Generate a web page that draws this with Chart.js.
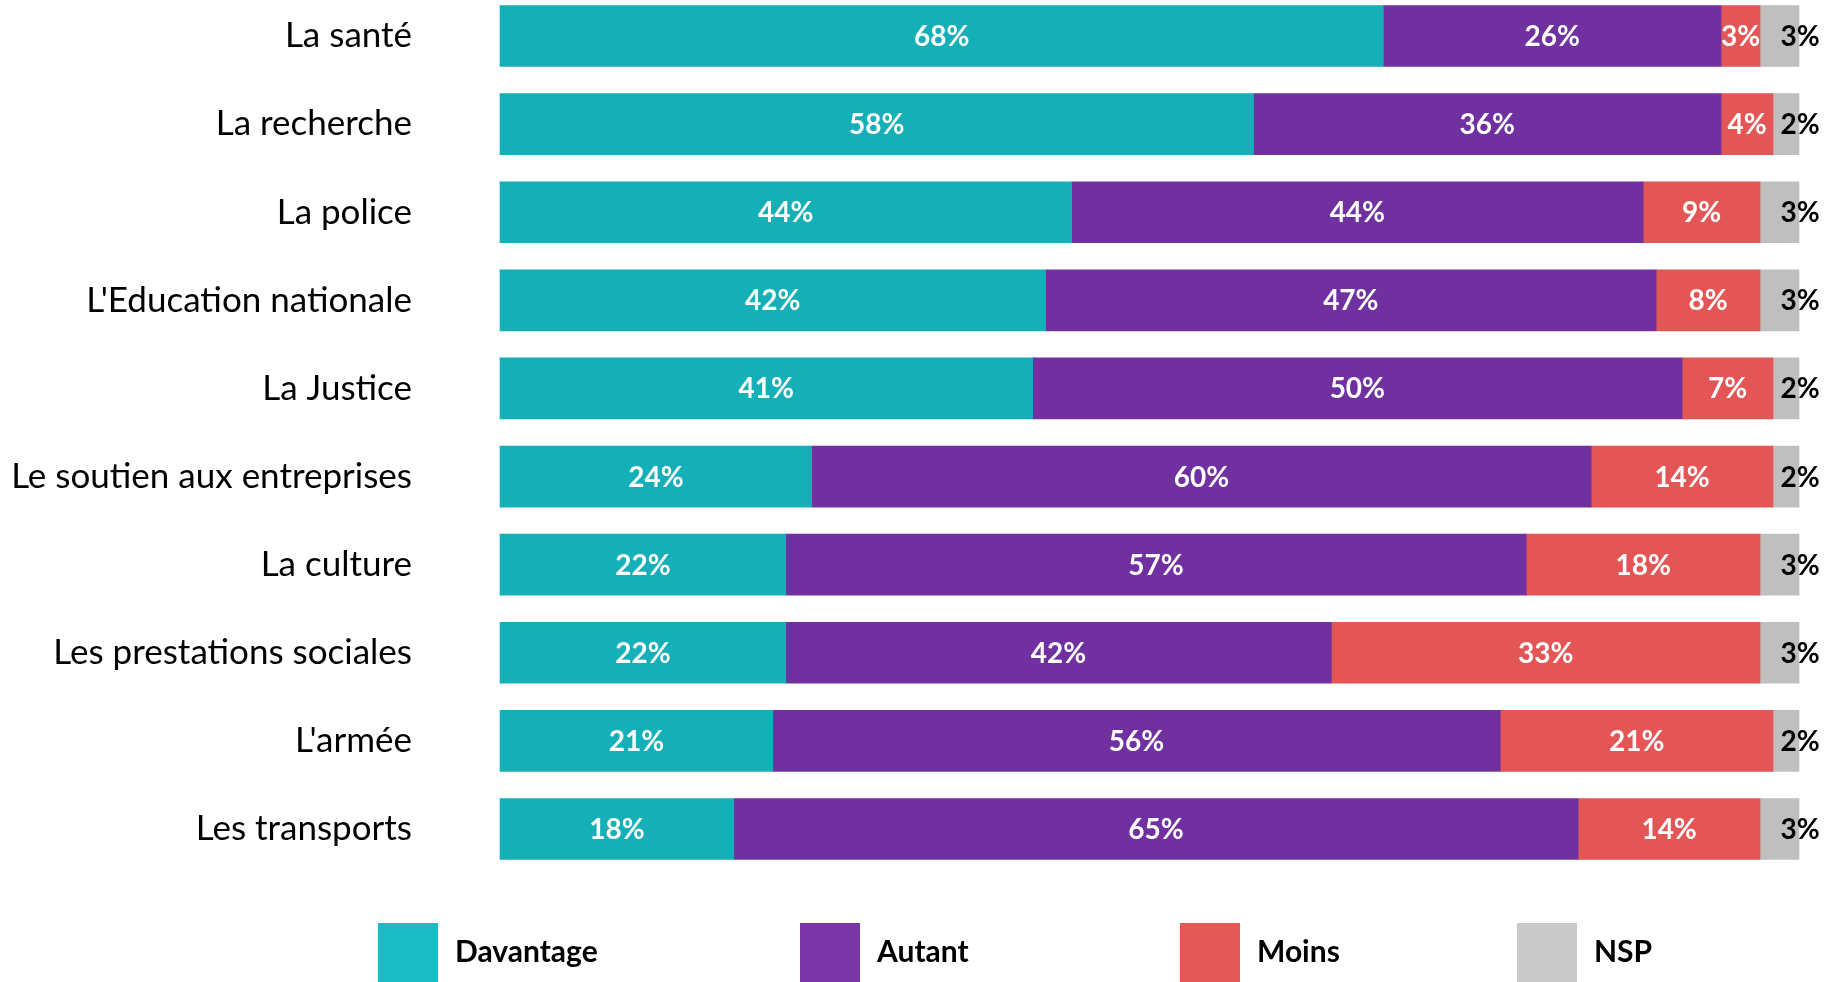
<!DOCTYPE html>
<html>
<head>
<meta charset="utf-8">
<script src="https://cdn.jsdelivr.net/npm/chart.js@4/dist/chart.umd.min.js"></script>
<style>
  html, body { margin: 0; padding: 0; background: #fff; overflow: hidden; }
  #wrap { width: 1837px; height: 982px; position: relative; }
</style>
</head>
<body>
<div id="wrap"><canvas id="chart"></canvas></div>
<script>
// data
var categories = ["La santé", "La recherche", "La police", "L'Education nationale", "La Justice",
  "Le soutien aux entreprises", "La culture", "Les prestations sociales", "L'armée", "Les transports"];
var seriesNames = ["Davantage", "Autant", "Moins", "NSP"];
var davantage = [68, 58, 44, 42, 41, 24, 22, 22, 21, 18];
var autant    = [26, 36, 44, 47, 50, 60, 57, 42, 56, 65];
var moins     = [3, 4, 9, 8, 7, 14, 18, 33, 21, 14];
var nsp       = [3, 2, 3, 3, 2, 2, 3, 3, 2, 3];

var barColors = ['#14AFB7', '#7030A0', '#E45656', '#BFBFBF'];
var legendColors = ['#1ABCC5', '#7A36A6', '#E45757', '#C9C9C9'];
var labelColors = ['#fff', '#fff', '#fff', '#000'];

var FONT = 'Lato, "Open Sans", sans-serif';

// draws the % values inside / next to the segments
var valueLabels = {
  id: 'valueLabels',
  afterDatasetsDraw: function(chart) {
    var ctx = chart.ctx;
    ctx.save();
    ctx.font = 'bold 28px ' + FONT;
    ctx.textBaseline = 'middle';
    ctx.textAlign = 'center';
    chart.data.datasets.forEach(function(ds, i) {
      var meta = chart.getDatasetMeta(i);
      meta.data.forEach(function(bar, j) {
        var x = (i === 3) ? bar.x + 1 : (bar.x + bar.base) / 2;
        ctx.fillStyle = labelColors[i];
        ctx.fillText(ds.data[j] + '%', x, bar.y + 1);
      });
    });
    ctx.restore();
  }
};

// legend at the bottom, boxes cut by the canvas edge as in the original
var bottomLegend = {
  id: 'bottomLegend',
  afterDraw: function(chart, args, opts) {
    var ctx = chart.ctx;
    ctx.save();
    ctx.font = 'bold 30px ' + FONT;
    ctx.textBaseline = 'middle';
    ctx.textAlign = 'left';
    seriesNames.forEach(function(name, i) {
      var x = opts.xs[i];
      ctx.fillStyle = legendColors[i];
      ctx.fillRect(x, opts.top, 60, 70);
      ctx.fillStyle = '#000';
      ctx.fillText(name, x + 77, opts.top + 29);
    });
    ctx.restore();
  }
};

var ctx = document.getElementById('chart').getContext('2d');
var chart = new Chart(ctx, {
  type: 'bar',
  data: {
    labels: categories,
    datasets: [davantage, autant, moins, nsp].map(function(vals, i) {
      return {
        label: seriesNames[i],
        data: vals,
        backgroundColor: barColors[i],
        borderWidth: 0,
        barThickness: 61,
        clip: false
      };
    })
  },
  plugins: [valueLabels, bottomLegend],
  options: {
    indexAxis: 'y',
    responsive: true,
    maintainAspectRatio: false,
    animation: false,
    layout: { padding: { left: 4, right: 38, top: 36, bottom: 153 } },
    scales: {
      x: { stacked: true, min: 0, max: 100, display: false },
      y: {
        stacked: true,
        offset: false,
        grid: { display: false, drawTicks: false },
        border: { display: false },
        ticks: { color: '#000', padding: 88, font: { family: FONT, size: 35 } },
        afterFit: function(scale) {
          scale.width = 496;
          scale.paddingTop = 0;
          scale.paddingBottom = 0;
        }
      }
    },
    plugins: {
      legend: { display: false },
      tooltip: { enabled: false },
      bottomLegend: { xs: [378, 800, 1180, 1517], top: 923 }
    }
  }
});
</script>
</body>
</html>
